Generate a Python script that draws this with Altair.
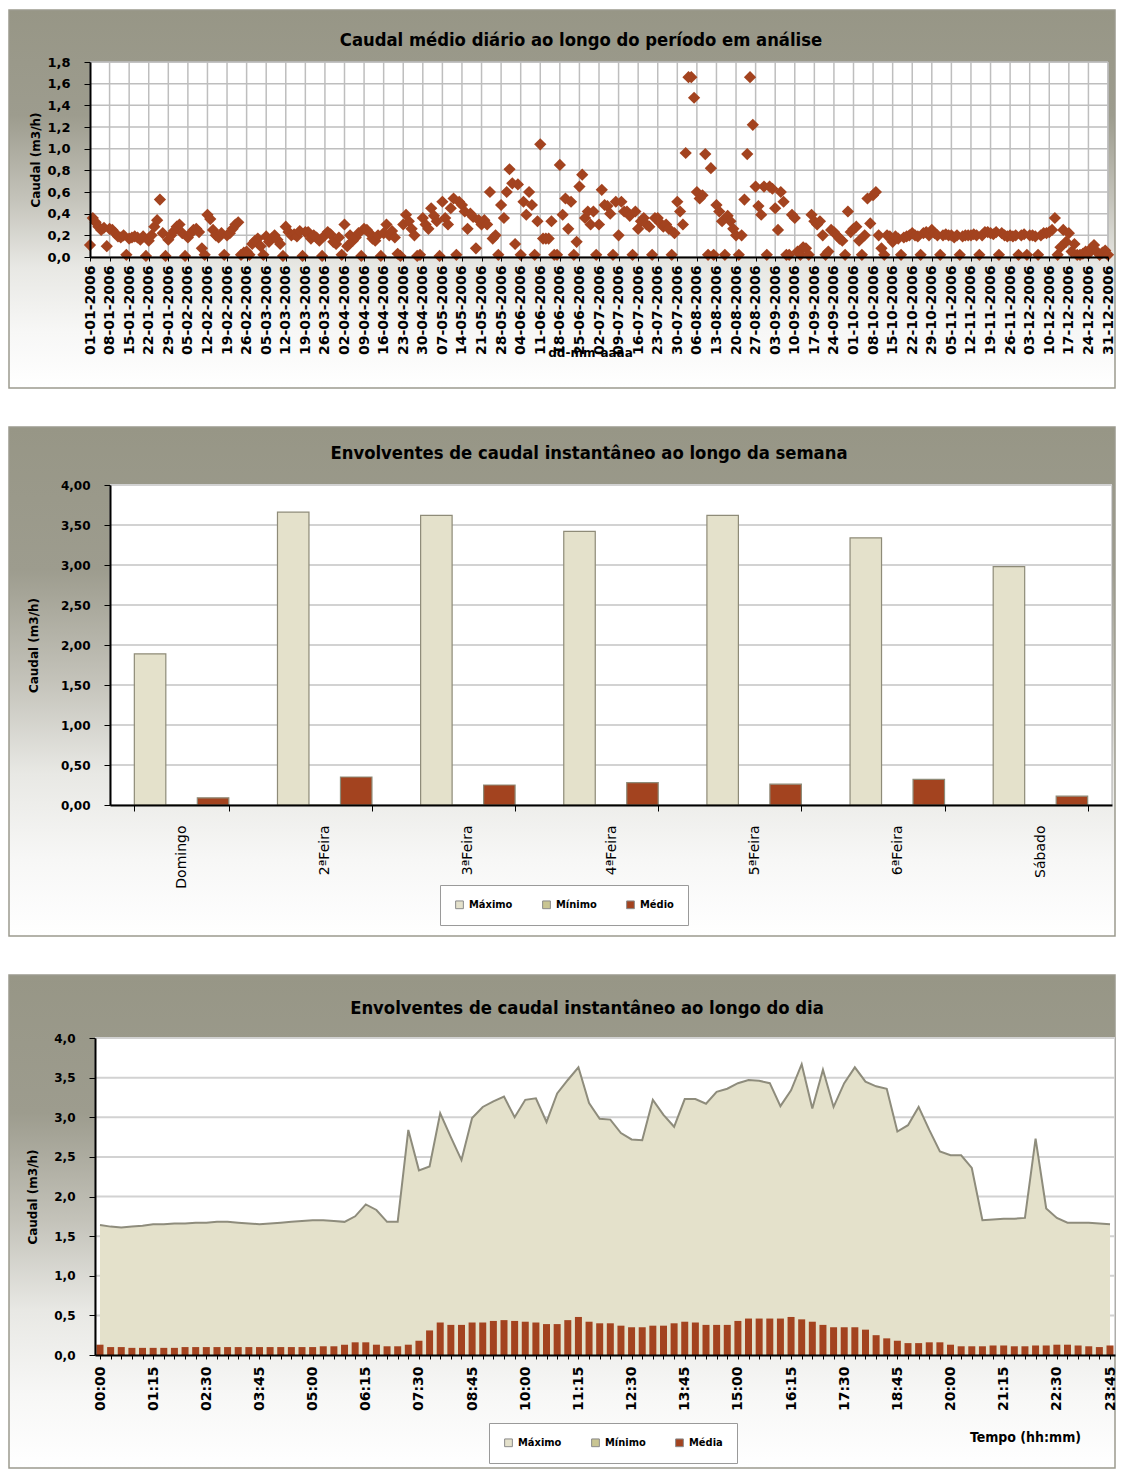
import altair as alt
import pandas as pd

# ---------------- data: panel 1 (daily mean flow, 2006) ----------------
WEEKLY_ROWS = [
    [0.11, 0.36, 0.32, 0.28, 0.25, 0.27, 0.10],
    [0.26, 0.25, 0.22, 0.19, 0.18, 0.20, 0.02],
    [0.17, 0.18, 0.19, 0.18, 0.16, 0.19, 0.01],
    [0.15, 0.20, 0.28, 0.34, 0.53, 0.22, 0.01],
    [0.16, 0.20, 0.24, 0.28, 0.30, 0.22, 0.01],
    [0.18, 0.22, 0.25, 0.26, 0.23, 0.08, 0.02],
    [0.39, 0.35, 0.25, 0.20, 0.18, 0.22, 0.02],
    [0.20, 0.22, 0.26, 0.30, 0.32, 0.02, 0.04],
    [0.05, 0.02, 0.12, 0.15, 0.17, 0.10, 0.02],
    [0.19, 0.14, 0.17, 0.20, 0.16, 0.12, 0.01],
    [0.28, 0.23, 0.20, 0.21, 0.19, 0.24, 0.01],
    [0.23, 0.23, 0.17, 0.20, 0.18, 0.15, 0.01],
    [0.20, 0.23, 0.21, 0.14, 0.12, 0.18, 0.02],
    [0.30, 0.10, 0.20, 0.15, 0.18, 0.22, 0.01],
    [0.26, 0.25, 0.22, 0.17, 0.15, 0.20, 0.01],
    [0.22, 0.30, 0.20, 0.24, 0.18, 0.03, 0.01],
    [0.30, 0.39, 0.33, 0.26, 0.20, 0.01, 0.02],
    [0.36, 0.30, 0.26, 0.45, 0.38, 0.33, 0.01],
    [0.51, 0.36, 0.30, 0.45, 0.54, 0.02, 0.51],
    [0.48, 0.42, 0.26, 0.40, 0.37, 0.08, 0.34],
    [0.30, 0.34, 0.30, 0.60, 0.17, 0.20, 0.02],
    [0.48, 0.36, 0.60, 0.81, 0.68, 0.12, 0.67],
    [0.02, 0.51, 0.39, 0.60, 0.48, 0.02, 0.33],
    [1.04, 0.17, 0.17, 0.17, 0.33, 0.02, 0.02],
    [0.85, 0.39, 0.54, 0.26, 0.51, 0.02, 0.14],
    [0.65, 0.76, 0.36, 0.42, 0.30, 0.42, 0.02],
    [0.30, 0.62, 0.48, 0.47, 0.40, 0.02, 0.51],
    [0.20, 0.51, 0.42, 0.42, 0.38, 0.02, 0.42],
    [0.26, 0.33, 0.36, 0.30, 0.28, 0.02, 0.36],
    [0.36, 0.31, 0.28, 0.30, 0.26, 0.02, 0.22],
    [0.51, 0.42, 0.30, 0.96, 1.66, 1.66, 1.47],
    [0.60, 0.54, 0.57, 0.95, 0.02, 0.82, 0.02],
    [0.48, 0.42, 0.33, 0.02, 0.38, 0.33, 0.26],
    [0.20, 0.02, 0.20, 0.53, 0.95, 1.66, 1.22],
    [0.65, 0.47, 0.39, 0.65, 0.02, 0.65, 0.63],
    [0.45, 0.25, 0.60, 0.51, 0.02, 0.02, 0.39],
    [0.36, 0.05, 0.02, 0.09, 0.08, 0.02, 0.39],
    [0.33, 0.30, 0.33, 0.20, 0.02, 0.05, 0.25],
    [0.23, 0.20, 0.17, 0.15, 0.02, 0.42, 0.23],
    [0.26, 0.28, 0.15, 0.02, 0.20, 0.54, 0.31],
    [0.57, 0.60, 0.20, 0.08, 0.02, 0.20, 0.19],
    [0.14, 0.19, 0.17, 0.02, 0.18, 0.19, 0.20],
    [0.22, 0.20, 0.19, 0.02, 0.22, 0.23, 0.20],
    [0.25, 0.22, 0.20, 0.02, 0.20, 0.21, 0.20],
    [0.20, 0.18, 0.20, 0.02, 0.19, 0.20, 0.20],
    [0.20, 0.21, 0.20, 0.02, 0.20, 0.23, 0.23],
    [0.22, 0.21, 0.23, 0.02, 0.22, 0.20, 0.19],
    [0.20, 0.19, 0.20, 0.02, 0.20, 0.21, 0.02],
    [0.20, 0.20, 0.19, 0.02, 0.20, 0.22, 0.22],
    [0.23, 0.25, 0.36, 0.02, 0.09, 0.25, 0.14],
    [0.22, 0.05, 0.12, 0.02, 0.02, 0.03, 0.05],
    [0.03, 0.08, 0.11, 0.05, 0.02, 0.04, 0.06],
    [0.02],
]
DAILY_FLOW = [v for row in WEEKLY_ROWS for v in row]
assert len(DAILY_FLOW) == 365
DAY_INDEX = list(range(365))
WEEK_TICKS = list(range(0, 365, 7))
Y1_TICKS = [0.0, 0.2, 0.4, 0.6, 0.8, 1.0, 1.2, 1.4, 1.6, 1.8]

# ---------------- data: panel 2 (weekly envelopes) ----------------
WEEKDAYS = ["Domingo", "2ªFeira", "3ªFeira", "4ªFeira", "5ªFeira", "6ªFeira", "Sábado"]
SERIES2 = ["Máximo", "Mínimo", "Médio"]
WEEK_MAX = [1.89, 3.66, 3.62, 3.42, 3.62, 3.34, 2.98]
WEEK_MIN = [0.00, 0.00, 0.00, 0.00, 0.00, 0.00, 0.00]
WEEK_MED = [0.09, 0.35, 0.25, 0.28, 0.26, 0.32, 0.11]
Y2_TICKS = [0.0, 0.5, 1.0, 1.5, 2.0, 2.5, 3.0, 3.5, 4.0]

# ---------------- data: panel 3 (daily envelopes, 15 min) ----------------
SERIES3 = ["Máximo", "Mínimo", "Média"]
SLOT_INDEX = list(range(96))
DAY_MAX = [
    1.64, 1.62, 1.61, 1.62, 1.63, 1.65, 1.65, 1.66, 1.66, 1.67, 1.67, 1.68,
    1.68, 1.67, 1.66, 1.65, 1.66, 1.67, 1.68, 1.69, 1.70, 1.70, 1.69, 1.68,
    1.75, 1.90, 1.83, 1.68, 1.68, 2.84, 2.33, 2.38, 3.05, 2.75, 2.46, 2.99,
    3.13, 3.20, 3.26, 3.00, 3.22, 3.24, 2.94, 3.30, 3.47, 3.63, 3.18, 2.98,
    2.97, 2.80, 2.72, 2.71, 3.22, 3.03, 2.88, 3.23, 3.23, 3.17, 3.32, 3.36,
    3.43, 3.47, 3.46, 3.43, 3.14, 3.34, 3.67, 3.11, 3.60, 3.13, 3.43, 3.63,
    3.45, 3.39, 3.36, 2.82, 2.90, 3.13, 2.84, 2.57, 2.52, 2.52, 2.36, 1.70,
    1.71, 1.72, 1.72, 1.73, 2.73, 1.85, 1.73, 1.67, 1.67, 1.67, 1.66, 1.65,
]
DAY_MIN = [
    0.0, 0.0, 0.0, 0.0, 0.0, 0.0, 0.0, 0.0, 0.0, 0.0, 0.0, 0.0,
    0.0, 0.0, 0.0, 0.0, 0.0, 0.0, 0.0, 0.0, 0.0, 0.0, 0.0, 0.0,
    0.0, 0.0, 0.0, 0.0, 0.0, 0.0, 0.0, 0.0, 0.0, 0.0, 0.0, 0.0,
    0.0, 0.0, 0.0, 0.0, 0.0, 0.0, 0.0, 0.0, 0.0, 0.0, 0.0, 0.0,
    0.0, 0.0, 0.0, 0.0, 0.0, 0.0, 0.0, 0.0, 0.0, 0.0, 0.0, 0.0,
    0.0, 0.0, 0.0, 0.0, 0.0, 0.0, 0.0, 0.0, 0.0, 0.0, 0.0, 0.0,
    0.0, 0.0, 0.0, 0.0, 0.0, 0.0, 0.0, 0.0, 0.0, 0.0, 0.0, 0.0,
    0.0, 0.0, 0.0, 0.0, 0.0, 0.0, 0.0, 0.0, 0.0, 0.0, 0.0, 0.0,
]
DAY_MED = [
    0.13, 0.10, 0.10, 0.09, 0.09, 0.09, 0.09, 0.09, 0.10, 0.10, 0.10, 0.10,
    0.10, 0.10, 0.10, 0.10, 0.10, 0.10, 0.10, 0.10, 0.10, 0.11, 0.11, 0.13,
    0.16, 0.16, 0.13, 0.11, 0.11, 0.13, 0.18, 0.31, 0.41, 0.38, 0.38, 0.41,
    0.41, 0.43, 0.44, 0.43, 0.42, 0.41, 0.39, 0.39, 0.44, 0.48, 0.42, 0.40,
    0.40, 0.37, 0.35, 0.35, 0.37, 0.37, 0.40, 0.42, 0.41, 0.38, 0.38, 0.38,
    0.43, 0.46, 0.46, 0.46, 0.46, 0.48, 0.45, 0.42, 0.38, 0.35, 0.35, 0.35,
    0.32, 0.25, 0.21, 0.18, 0.15, 0.15, 0.16, 0.16, 0.13, 0.11, 0.11, 0.11,
    0.12, 0.12, 0.11, 0.11, 0.12, 0.12, 0.13, 0.13, 0.12, 0.11, 0.10, 0.12,
]
assert len(DAY_MAX) == 96 and len(DAY_MIN) == 96 and len(DAY_MED) == 96
Y3_TICKS = [0.0, 0.5, 1.0, 1.5, 2.0, 2.5, 3.0, 3.5, 4.0]

# ---------------- styling / layout ----------------
FONT = "DejaVu Sans"
FONT_T = "DejaVu Sans Condensed, Liberation Sans Narrow, DejaVu Sans"
RUST = "#A3431F"
BEIGE = "#E4E1CB"
OLIVE = "#C9C592"
ORIGIN_X = 90           # page x of every panel's group origin
BOX_L, BOX_R = 9, 1115  # page x of the grey panel boxes

GRAD = alt.LinearGradient(
    gradient="linear", x1=0, x2=0, y1=0, y2=1,
    stops=[
        alt.GradientStop(color="#979686", offset=0.0),
        alt.GradientStop(color="#9D9C8E", offset=0.28),
        alt.GradientStop(color="#C4C3BA", offset=0.5),
        alt.GradientStop(color="#E8E8E4", offset=0.68),
        alt.GradientStop(color="#F7F7F6", offset=0.85),
        alt.GradientStop(color="#FFFFFF", offset=1.0),
    ],
)
ONE = pd.DataFrame({"k": [0]})


def frame(x0, py, W, H, top, bottom, title, tx, ty):
    bg = alt.Chart(ONE).mark_rect(fill=GRAD, stroke="#9C9B8F", strokeWidth=1.5).encode(
        x=alt.value(BOX_L - ORIGIN_X), x2=alt.value(BOX_R - ORIGIN_X),
        y=alt.value(top - py), y2=alt.value(bottom - py))
    plot = alt.Chart(ONE).mark_rect(fill="white", stroke="#A8A8A8", strokeWidth=1).encode(
        x=alt.value(x0), x2=alt.value(x0 + W), y=alt.value(0), y2=alt.value(H))
    ttl = alt.Chart(ONE).mark_text(
        text=title, font=FONT_T, fontSize=18.3, fontWeight="bold", color="black",
        align="center", baseline="middle").encode(
        x=alt.value(tx - ORIGIN_X), y=alt.value(ty - py))
    return bg, plot, ttl


def yaxis(values, fmt, axis_x, title_page_x, H, size=12):
    return alt.Axis(
        values=values, labelExpr=f"replace(format(datum.value,'{fmt}'),'.',',')",
        labelFont=FONT, labelFontSize=size, labelFontWeight="bold", labelColor="black",
        labelPadding=14, tickColor="black", tickSize=6, tickWidth=1,
        domainColor="black", domainWidth=2, grid=False, zindex=1, offset=-axis_x,
        title="Caudal (m3/h)", titleFont=FONT, titleFontSize=12, titleFontWeight="bold",
        titleColor="black", titleX=title_page_x - (ORIGIN_X + axis_x), titleY=H / 2,
        titleAngle=270, titleAlign="center", titleBaseline="middle")


def legend(page_x, page_y, py):
    return alt.Legend(orient="none", legendX=page_x - ORIGIN_X, legendY=page_y - py,
                      direction="horizontal", title=None, strokeColor="#9A9A9A",
                      fillColor="white", padding=14, columnPadding=27, symbolType="square",
                      symbolSize=60, symbolStrokeColor="#8A8A8A", symbolStrokeWidth=1,
                      labelFont=FONT_T, labelFontSize=11, labelFontWeight="bold",
                      labelColor="black")


# ================= panel 1 =================
P1Y = 62
X1_0, W1, H1 = 0, 1018, 195
X1S = alt.Scale(domain=[0, 364], nice=False, zero=False, range=[X1_0, X1_0 + W1])
Y1S = alt.Scale(domain=[0, 1.8], nice=False)
X1AX = alt.Axis(
    values=WEEK_TICKS, labelExpr="timeFormat(datetime(2006, 0, 1 + datum.value), '%d-%m-%Y')",
    labelAngle=270, labelFont=FONT, labelFontSize=14, labelFontWeight="bold", labelColor="black",
    labelPadding=4, labelOverlap=False, labelFlush=False, labelBound=False,
    tickColor="black", tickSize=4, domainColor="black", domainWidth=2, grid=False, zindex=1,
    title="dd-mm-aaaa", titleFont=FONT, titleFontSize=12, titleFontWeight="bold", titleColor="black",
    titleX=590 - ORIGIN_X, titleY=95, titleAlign="center", titleBaseline="middle")
Y1AX = yaxis(Y1_TICKS, ".1f", X1_0, 35, H1, 13)
bg1, plot1, t1 = frame(X1_0, P1Y, W1, H1, 10, 388,
                       "Caudal médio diário ao longo do período em análise", 581, 41)
hgrid1 = alt.Chart(pd.DataFrame({"caudal": Y1_TICKS[1:]})).mark_rule(color="#BEBEBE", strokeWidth=1.5).encode(
    y=alt.Y("caudal:Q", scale=Y1S, axis=Y1AX), x=alt.value(X1_0), x2=alt.value(X1_0 + W1))
vgrid1 = alt.Chart(pd.DataFrame({"dia": WEEK_TICKS[1:]})).mark_rule(color="#BEBEBE", strokeWidth=1.5).encode(
    x=alt.X("dia:Q", scale=X1S, axis=X1AX), y=alt.value(0), y2=alt.value(H1))
pts = alt.Chart(pd.DataFrame({"dia": DAY_INDEX, "caudal": DAILY_FLOW})).mark_point(
    shape="diamond", filled=True, size=150, color=RUST, opacity=1).encode(
    x=alt.X("dia:Q", scale=X1S, axis=X1AX),
    y=alt.Y("caudal:Q", scale=Y1S, axis=Y1AX),
)
panel1 = alt.layer(bg1, plot1, hgrid1, vgrid1, pts, t1).properties(width=X1_0 + W1, height=H1)

# ================= panel 2 =================
P2Y = 486
X2_0, W2, H2 = 20, 1002, 320
Y2S = alt.Scale(domain=[0, 4], nice=False)
Y2AX = yaxis(Y2_TICKS, ".2f", X2_0, 33, H2, 12)
bg2, plot2, t2 = frame(X2_0, P2Y, W2, H2, 428, 937,
                       "Envolventes de caudal instantâneo ao longo da semana", 589, 455)
hgrid2 = alt.Chart(pd.DataFrame({"caudal": Y2_TICKS[1:]})).mark_rule(color="#D2D2D2", strokeWidth=2).encode(
    y=alt.Y("caudal:Q", scale=Y2S, axis=Y2AX), x=alt.value(X2_0), x2=alt.value(X2_0 + W2))
df2 = pd.DataFrame({
    "dia": WEEKDAYS * 3,
    "serie": [SERIES2[0]] * 7 + [SERIES2[1]] * 7 + [SERIES2[2]] * 7,
    "caudal": WEEK_MAX + WEEK_MIN + WEEK_MED,
})
bars2 = alt.Chart(df2).mark_bar(stroke="#8E8B78", strokeWidth=1.2, opacity=1).encode(
    x=alt.X("dia:N", sort=WEEKDAYS,
            scale=alt.Scale(domain=WEEKDAYS, paddingInner=0.34, paddingOuter=0.17,
                            range=[X2_0, X2_0 + W2]),
            axis=alt.Axis(labelAngle=270, labelFont=FONT, labelFontSize=14, labelColor="black",
                          labelPadding=14, tickBand="extent", tickColor="black", tickSize=6,
                          domainColor="black", domainWidth=2, grid=False, zindex=1, title=None)),
    xOffset=alt.XOffset("serie:N", sort=SERIES2,
                        scale=alt.Scale(domain=SERIES2, paddingInner=0, paddingOuter=0)),
    y=alt.Y("caudal:Q", scale=Y2S, axis=Y2AX),
    color=alt.Color("serie:N", scale=alt.Scale(domain=SERIES2, range=[BEIGE, OLIVE, RUST]),
                    legend=legend(440, 886, P2Y)),
)
panel2 = alt.layer(bg2, plot2, hgrid2, bars2, t2).properties(width=X2_0 + W2, height=H2)

# ================= panel 3 =================
P3Y = 1038
X3_0, W3, H3 = 5, 1020, 317
X3S = alt.Scale(domain=[0, 95], nice=False, zero=False, range=[X3_0, X3_0 + W3])
Y3S = alt.Scale(domain=[0, 4], nice=False)
C3 = alt.Scale(domain=SERIES3, range=[BEIGE, OLIVE, RUST])
LEG3 = legend(489, 1423, P3Y)
X3AX = alt.Axis(values=SLOT_INDEX,
                labelExpr="datum.value % 5 == 0 ? timeFormat(datetime(2006, 0, 1, 0, datum.value * 15), '%H:%M') : ''",
                labelAngle=270, labelFont=FONT, labelFontSize=14, labelFontWeight="bold", labelColor="black",
                labelPadding=7, labelOverlap=False, labelFlush=False, labelBound=False,
                tickColor="black", tickSize=4, domainColor="black", domainWidth=2, grid=False, zindex=1,
                title="Tempo (hh:mm)", titleFont=FONT_T, titleFontSize=14, titleFontWeight="bold",
                titleColor="black", titleX=1025 - ORIGIN_X, titleY=82,
                titleAlign="center", titleBaseline="middle")
Y3AX = yaxis(Y3_TICKS, ".1f", X3_0, 32, H3, 12)
bg3, plot3, t3 = frame(X3_0, P3Y, W3, H3, 975, 1468,
                       "Envolventes de caudal instantâneo ao longo do dia", 587, 1009)
hgrid3 = alt.Chart(pd.DataFrame({"caudal": Y3_TICKS[1:]})).mark_rule(color="#D2D2D2", strokeWidth=2).encode(
    y=alt.Y("caudal:Q", scale=Y3S, axis=Y3AX), x=alt.value(X3_0), x2=alt.value(X3_0 + W3))
df3a = pd.DataFrame({
    "t": SLOT_INDEX * 2,
    "serie": [SERIES3[0]] * 96 + [SERIES3[1]] * 96,
    "caudal": DAY_MAX + DAY_MIN,
})
area3 = alt.Chart(df3a).mark_area(opacity=1).encode(
    x=alt.X("t:Q", scale=X3S, axis=X3AX),
    y=alt.Y("caudal:Q", scale=Y3S, stack=None, axis=Y3AX),
    color=alt.Color("serie:N", scale=C3, legend=LEG3),
)
line3 = alt.Chart(pd.DataFrame({"t": SLOT_INDEX, "caudal": DAY_MAX})).mark_line(
    color="#8E8C7C", strokeWidth=2).encode(
    x=alt.X("t:Q", scale=X3S, axis=X3AX), y=alt.Y("caudal:Q", scale=Y3S, axis=Y3AX))
bars3 = alt.Chart(pd.DataFrame({"t": SLOT_INDEX, "serie": [SERIES3[2]] * 96, "caudal": DAY_MED})).mark_bar(
    size=7, opacity=1).encode(
    x=alt.X("t:Q", scale=X3S, axis=X3AX),
    y=alt.Y("caudal:Q", scale=Y3S, axis=Y3AX),
    color=alt.Color("serie:N", scale=C3, legend=LEG3),
)
panel3 = alt.layer(bg3, plot3, hgrid3, area3, line3, bars3, t3).properties(width=X3_0 + W3, height=H3)

chart = alt.vconcat(panel1, panel2, panel3, spacing=37).resolve_scale(color="independent").properties(
    padding={"left": 0, "top": 1, "right": 0, "bottom": 0},
    background="white",
).configure_view(strokeWidth=0)

chart.save("out.html", embed_options={"renderer": "svg", "actions": False})
